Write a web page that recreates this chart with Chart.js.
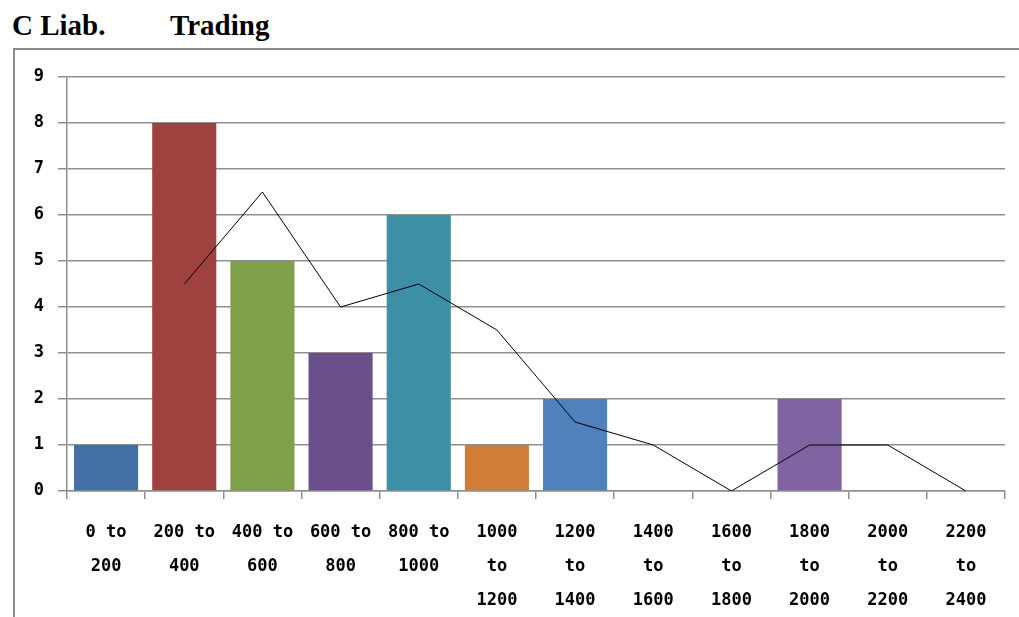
<!DOCTYPE html>
<html>
<head>
<meta charset="utf-8">
<script src="https://cdn.jsdelivr.net/npm/chart.js@4"></script>
<style>
  html, body { margin: 0; padding: 0; background: #fff; width: 1019px; height: 617px; overflow: hidden; }
  .ttl { position: absolute; top: 8px; font: bold 29px "Liberation Serif", "Times New Roman", serif; color: #000; line-height: 34px; white-space: pre; }
  #frame { position: absolute; left: 13px; top: 48px; width: 1020px; height: 600px; border-left: 2px solid #8a8a8a; border-top: 2px solid #8a8a8a; }
  #c { position: absolute; left: 0; top: 0; }
</style>
</head>
<body>
<div class="ttl" style="left:12px">C Liab.</div>
<div class="ttl" style="left:170px">Trading</div>
<div id="frame"></div>
<canvas id="c" width="1019" height="617"></canvas>
<script>
// Size classes of the liabilities (each label split over lines)
const categories = [
  ["0 to", "200"], ["200 to", "400"], ["400 to", "600"], ["600 to", "800"],
  ["800 to", "1000"], ["1000", "to", "1200"], ["1200", "to", "1400"],
  ["1400", "to", "1600"], ["1600", "to", "1800"], ["1800", "to", "2000"],
  ["2000", "to", "2200"], ["2200", "to", "2400"]
];
// Count per class
const counts = [1, 8, 5, 3, 6, 1, 2, 0, 0, 2, 0, 0];
// Two-class moving average
const movingAvg = [null, 4.5, 6.5, 4, 4.5, 3.5, 1.5, 1, 0, 1, 1, 0];
// Value axis ticks
const yTicks = [0, 1, 2, 3, 4, 5, 6, 7, 8, 9];

const barColors = ['#4470A5', '#9F413E', '#80A04A', '#6B4F8A', '#3D8FA6', '#D17D38',
                   '#4F81BD', '#C0504D', '#9BBB59', '#8064A2', '#4BACC6', '#F79646'];
const gridColor = '#8f8f8f';
const monoFamily = '"DejaVu Sans Mono", monospace';

new Chart(document.getElementById('c'), {
  data: {
    labels: categories,
    datasets: [
      {
        type: 'line',
        data: movingAvg,
        borderColor: '#000',
        borderWidth: 1,
        pointRadius: 0,
        tension: 0,
        spanGaps: false,
        order: 0
      },
      {
        type: 'bar',
        data: counts,
        backgroundColor: barColors,
        borderWidth: 0,
        barPercentage: 0.82,
        categoryPercentage: 1,
        order: 1
      }
    ]
  },
  options: {
    responsive: false,
    animation: false,
    layout: { padding: { left: 0, top: 77, right: 14, bottom: 0 } },
    plugins: { legend: { display: false }, tooltip: { enabled: false } },
    scales: {
      x: {
        offset: true,
        grid: { offset: true, drawOnChartArea: false, drawTicks: true, tickLength: 8, color: gridColor, lineWidth: 1.5 },
        border: { display: true, color: gridColor, width: 1.5 },
        ticks: { autoSkip: false, maxRotation: 0, minRotation: 0, color: '#000',
                 font: { family: monoFamily, size: 17, weight: 'bold', lineHeight: 2.0 }, padding: 17 },
        afterFit: s => { s.height = 617 - 491; }
      },
      y: {
        min: 0,
        max: 9,
        afterBuildTicks: s => { s.ticks = yTicks.map(v => ({ value: v })); },
        grid: { color: gridColor, lineWidth: 1.5, tickLength: 9 },
        border: { display: true, color: gridColor, width: 1.5 },
        ticks: { color: '#000', font: { family: monoFamily, size: 17, weight: 'bold' }, padding: 14 },
        afterFit: s => { s.width = 67; }
      }
    }
  }
});
</script>
</body>
</html>
